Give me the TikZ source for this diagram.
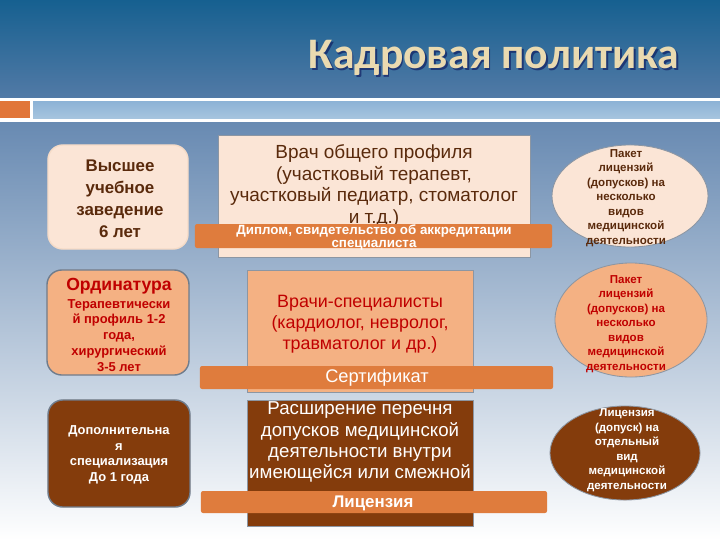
\documentclass[tikz,border=0pt]{standalone}
\usepackage{fontspec}
\setmainfont{Liberation Sans}
\newfontfamily\titlefont{Carlito}
\usetikzlibrary{shapes.geometric}
\definecolor{peach}{HTML}{FBE5D6}
\definecolor{salmon}{HTML}{F4B183}
\definecolor{rust}{HTML}{843C0C}
\definecolor{barorange}{HTML}{DF7C3D}
\definecolor{darkbrown}{HTML}{5A2A0C}
\definecolor{darkred}{HTML}{C00000}
\definecolor{edgegrey}{HTML}{6F7C8C}
\definecolor{titlecream}{HTML}{EADAB0}
\begin{document}
\begin{tikzpicture}[x=0.025cm,y=-0.025cm,
  lbox/.style={draw=edgegrey, line width=1pt, rounded corners=0.37cm, inner sep=0pt},
  mbox/.style={draw=edgegrey!80, line width=0.6pt, inner sep=0pt},
  bar/.style={fill=barorange, rounded corners=1.5pt, inner sep=0pt},
  ell/.style={ellipse, draw=edgegrey!80, line width=0.6pt, inner sep=0pt},
  txt/.style={align=center, inner sep=0pt}]
\useasboundingbox (0,0) rectangle (720,540);
\fill[top color={rgb,255:red,22;green,96;blue,144}, bottom color={rgb,255:red,82;green,122;blue,166}] (0,0) rectangle (720,98);
\fill[white] (0,98) rectangle (720,122);
\fill[barorange!95!red] (0,101) rectangle (30,118);
\fill[top color={rgb,255:red,140;green,178;blue,214}, bottom color={rgb,255:red,166;green,196;blue,222}] (33,101) rectangle (720,118);
\fill[top color={rgb,255:red,104;green,138;blue,178}, middle color={rgb,255:red,214;green,226;blue,238}, bottom color=white] (0,122) rectangle (720,540);
\node[font=\titlefont\bfseries\fontsize{31}{35}\selectfont, text=black!70!blue, opacity=0.5] (titleshadow) at (495.5,59.5) {Кадровая политика};
\node[font=\titlefont\bfseries\fontsize{31}{35}\selectfont, text=titlecream] (title) at (494,58) {Кадровая политика};
\node[lbox, draw=peach!90!brown, fill=peach, minimum width=3.5cm, minimum height=2.6cm] (vuz) at (118,197) {};
\node[txt, text=darkbrown, font=\bfseries\fontsize{12}{15.6}\selectfont] (vuztext) at (120,199) {Высшее\\учебное\\заведение\\6 лет};
\node[lbox, fill=salmon, minimum width=3.55cm, minimum height=2.625cm] (ord) at (118,322.5) {};
\node[txt, text=darkred, font=\bfseries\fontsize{9.2}{11.2}\selectfont] (ordtext) at (119,325) {{\fontsize{12.5}{14}\selectfont Ординатура}\\[1pt]Терапевтически\\й профиль 1-2\\года,\\хирургический\\3-5 лет};
\node[lbox, fill=rust, minimum width=3.55cm, minimum height=2.675cm] (dop) at (119,453.5) {};
\node[txt, text=white, font=\bfseries\fontsize{9.2}{11}\selectfont] (doptext) at (119,455) {Дополнительна\\я\\специализация\\До 1 года};
\node[mbox, fill=peach, minimum width=7.8cm, minimum height=3.05cm] (vrach) at (374,196) {};
\node[txt, text=darkbrown, font=\fontsize{13.5}{15.6}\selectfont] (vrachtext) at (374,186) {Врач общего профиля\\(участковый терапевт,\\участковый педиатр, стоматолог\\и т.д.)};
\node[bar, minimum width=8.925cm, minimum height=0.6cm] (diplom) at (373.5,236) {};
\node[txt, text=white, font=\bfseries\fontsize{9.5}{9.3}\selectfont] (diplomtext) at (374,237) {Диплом, свидетельство об аккредитации\\специалиста};
\node[mbox, fill=salmon, minimum width=5.65cm, minimum height=3.05cm] (spec) at (360,331) {};
\node[txt, text=darkred, font=\fontsize{12.7}{15}\selectfont] (spectext) at (360,324) {Врачи-специалисты\\(кардиолог, невролог,\\травматолог и др.)};
\node[bar, minimum width=8.825cm, minimum height=0.575cm] (sert) at (376.5,377.5) {};
\node[txt, text=white, font=\fontsize{13}{15}\selectfont] (serttext) at (377,378) {Сертификат};
\node[mbox, fill=rust, minimum width=5.65cm, minimum height=3.15cm] (rassh) at (360,463) {};
\node[txt, text=white, font=\fontsize{13.3}{15}\selectfont] (rasshtext) at (360,442) {Расширение перечня\\допусков медицинской\\деятельности внутри\\имеющейся или смежной};
\node[bar, minimum width=8.65cm, minimum height=0.55cm] (lic) at (374,502) {};
\node[txt, text=white, font=\bfseries\fontsize{12}{14}\selectfont] (lictext) at (373,503) {Лицензия};
\node[ell, fill=peach, minimum width=3.9cm, minimum height=2.55cm] (paket) at (630,196) {};
\node[txt, text=darkbrown, font=\bfseries\fontsize{8.2}{10.3}\selectfont] (pakettext) at (626,198) {Пакет\\лицензий\\(допусков) на\\несколько\\видов\\медицинской\\деятельности};
\node[ell, fill=salmon, minimum width=3.8cm, minimum height=2.85cm] (paketspec) at (631,320) {};
\node[txt, text=darkred, font=\bfseries\fontsize{8.2}{10.3}\selectfont] (paketspectext) at (626,324) {Пакет\\лицензий\\(допусков) на\\несколько\\видов\\медицинской\\деятельности};
\node[ell, fill=rust, minimum width=3.75cm, minimum height=2.35cm] (licvid) at (625,453) {};
\node[txt, text=white, font=\bfseries\fontsize{8.2}{10.3}\selectfont] (licvidtext) at (627,450) {Лицензия\\(допуск) на\\отдельный\\вид\\медицинской\\деятельности};
\end{tikzpicture}
\end{document}
